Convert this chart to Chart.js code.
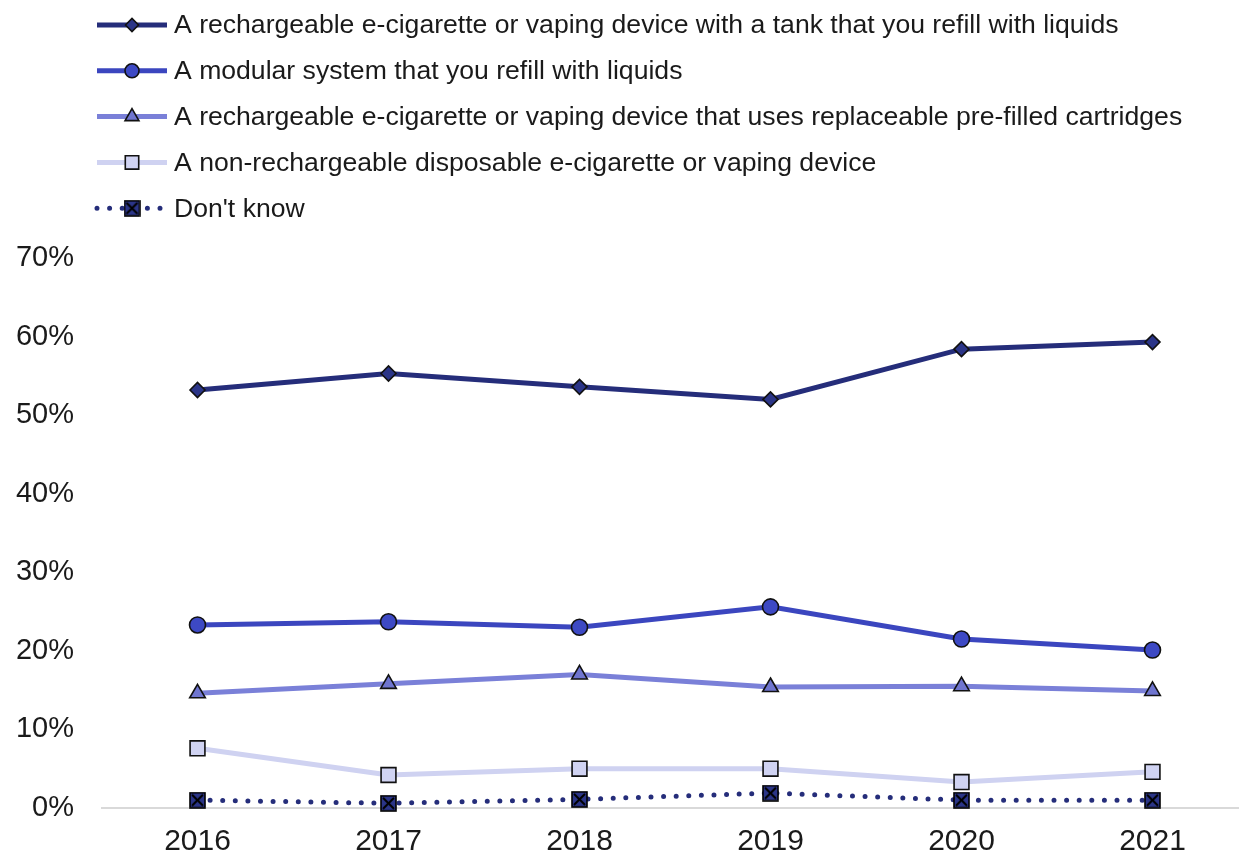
<!DOCTYPE html>
<html>
<head>
<meta charset="utf-8">
<script src="https://cdn.jsdelivr.net/npm/chart.js@4.4.1/dist/chart.umd.min.js"></script>
<style>
  html, body { margin: 0; padding: 0; background: #fff; overflow: hidden; }
  #chart { display: block; }
</style>
</head>
<body>
<canvas id="chart" width="1248" height="860"></canvas>
<script>
// values (percent)
var years = ['2016', '2017', '2018', '2019', '2020', '2021'];
var tankRefill = [53.2, 55.3, 53.6, 52.0, 58.4, 59.3];
var modular = [23.3, 23.7, 23.0, 25.6, 21.5, 20.1];
var cartridges = [14.6, 15.8, 17.0, 15.4, 15.5, 14.9];
var disposable = [7.6, 4.2, 5.0, 5.0, 3.3, 4.6];
var dontKnow = [1.0, 0.6, 1.1, 1.9, 1.0, 1.0];
var yMax = 70, yStep = 10;

var labels = [
    'A rechargeable e-cigarette or vaping device with a tank that you refill with liquids',
    'A modular system that you refill with liquids',
    'A rechargeable e-cigarette or vaping device that uses replaceable pre-filled cartridges',
    'A non-rechargeable disposable e-cigarette or vaping device',
    "Don't know"
];

var FONT = "'Liberation Sans', Arial, sans-serif";

// square marker with an X through it
function crossBox(fill) {
    var c = document.createElement('canvas');
    c.width = 17; c.height = 17;
    var g = c.getContext('2d');
    g.fillStyle = fill;
    g.fillRect(1, 1, 15, 15);
    g.strokeStyle = '#000';
    g.lineWidth = 1.6;
    g.strokeRect(1, 1, 15, 15);
    g.lineWidth = 2;
    g.beginPath();
    g.moveTo(3, 3); g.lineTo(14, 14);
    g.moveTo(14, 3); g.lineTo(3, 14);
    g.stroke();
    return c;
}

function series(label, data, color, fill, style, radius, dotted) {
    return {
        label: label,
        data: data,
        borderColor: color,
        backgroundColor: color,
        borderWidth: 5,
        borderDash: dotted ? [0, 12.6] : [],
        borderCapStyle: dotted ? 'round' : 'butt',
        pointStyle: style,
        pointRadius: radius,
        pointHoverRadius: radius,
        pointBackgroundColor: fill,
        pointBorderColor: '#111',
        pointBorderWidth: 1.6,
        tension: 0,
        fill: false,
        clip: false
    };
}

var datasets = [
    series(labels[0], tankRefill, '#252d7a', '#2b3588', 'rectRot', 7.5),
    series(labels[1], modular, '#3b46bf', '#3d49c4', 'circle', 8),
    series(labels[2], cartridges, '#7a80d8', '#6f75cf', 'triangle', 9),
    series(labels[3], disposable, '#cfd2f1', '#d0d3f2', 'rect', 10.5),
    series(labels[4], dontKnow, '#252d7a', '#2b3588', crossBox('#2b3588'), 8.5, true)
];

// legend stacked one item per row, line sample with marker in the middle
var stackLegend = {
    id: 'stackLegend',
    afterDraw: function(chart) {
        var ctx = chart.ctx;
        var x0 = 97, x1 = 167, tx = 174, y = 25, gap = 45.8;
        chart.data.datasets.forEach(function(ds) {
            ctx.save();
            ctx.strokeStyle = ds.borderColor;
            ctx.lineWidth = ds.borderWidth;
            ctx.lineCap = ds.borderCapStyle;
            ctx.setLineDash(ds.borderDash);
            ctx.beginPath();
            ctx.moveTo(x0, y);
            ctx.lineTo(x1, y);
            ctx.stroke();
            ctx.setLineDash([]);
            ctx.fillStyle = ds.pointBackgroundColor;
            ctx.strokeStyle = ds.pointBorderColor;
            ctx.lineWidth = ds.pointBorderWidth;
            var r = ds.pointStyle === 'rect' ? 9.5 : ds.pointRadius - 1;
            Chart.helpers.drawPoint(ctx, {
                pointStyle: ds.pointStyle,
                radius: r,
                rotation: 0,
                borderWidth: ds.pointBorderWidth
            }, (x0 + x1) / 2, y);
            ctx.fillStyle = '#1a1a1a';
            ctx.font = '26.6px ' + FONT;
            ctx.textBaseline = 'middle';
            ctx.textAlign = 'left';
            ctx.fillText(ds.label, tx, y + 1);
            ctx.restore();
            y += gap;
        });
    }
};

new Chart(document.getElementById('chart'), {
    type: 'line',
    data: { labels: years, datasets: datasets },
    plugins: [stackLegend],
    options: {
        responsive: false,
        animation: false,
        layout: { autoPadding: false, padding: { top: 258, left: 0, right: 0, bottom: 0 } },
        plugins: {
            legend: { display: false },
            tooltip: { enabled: false }
        },
        scales: {
            x: {
                offset: true,
                grid: { display: false },
                border: { display: true, color: '#d9d9d9', width: 2 },
                ticks: {
                    color: '#1a1a1a',
                    font: { family: FONT, size: 30 },
                    padding: 8
                },
                afterFit: function(scale) { scale.height = 52; }
            },
            y: {
                min: 0,
                max: yMax,
                grid: { display: false },
                border: { display: false },
                ticks: {
                    stepSize: yStep,
                    color: '#1a1a1a',
                    font: { family: FONT, size: 29 },
                    padding: 20,
                    callback: function(v) { return v + '%'; }
                },
                afterFit: function(scale) { scale.width = 102; }
            }
        }
    }
});
</script>
</body>
</html>
